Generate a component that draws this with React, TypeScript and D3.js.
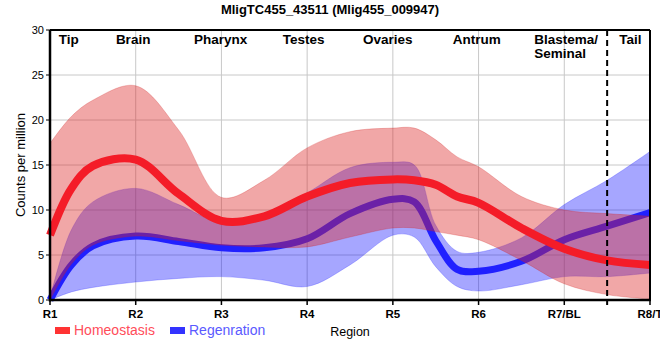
import * as d3 from 'd3';

// sample positions along the region axis (R1..R8)
const POS = [1, 1.25, 1.5, 2, 2.5, 3, 3.5, 4, 4.5, 5, 5.25, 5.5, 5.75, 6, 6.5, 7, 7.5, 8];

const HOMEO_MEAN = [7.2, 12.4, 14.9, 15.6, 11.8, 8.8, 9.3, 11.5, 13.0, 13.4, 13.3, 12.8, 11.5, 10.8, 8.0, 5.7, 4.4, 3.9];
const HOMEO_UPPER = [17.4, 20.4, 22.2, 23.8, 18.9, 11.4, 13.3, 16.9, 18.7, 19.1, 19.1, 17.8, 15.9, 14.8, 11.5, 10.0, 9.6, 9.3];
const HOMEO_LOWER = [0, 4.0, 6.1, 7.1, 6.6, 6.1, 5.9, 5.9, 7.0, 8.0, 8.0, 7.6, 7.2, 6.7, 4.4, 1.8, 0.6, 0.1];

const REGEN_MEAN = [0, 3.9, 6.0, 7.1, 6.5, 5.8, 5.8, 6.8, 9.6, 11.2, 10.9, 6.6, 3.4, 3.2, 4.3, 6.7, 8.2, 9.7];
const REGEN_UPPER = [0.2, 7.8, 10.9, 12.4, 10.6, 8.6, 9.5, 11.9, 14.7, 15.3, 15.0, 8.3, 5.4, 5.3, 6.9, 10.6, 13.3, 16.5];
const REGEN_LOWER = [0, 0.9, 1.4, 2.0, 2.4, 2.6, 2.2, 1.5, 3.9, 7.2, 7.0, 3.7, 1.5, 1.0, 1.7, 2.6, 2.6, 3.0];

const X_TICKS = ['R1', 'R2', 'R3', 'R4', 'R5', 'R6', 'R7/BL', 'R8/T'];
const Y_TICKS = [0, 5, 10, 15, 20, 25, 30];

// tissue labels along the top: [label lines, position, anchor]
const TISSUES: [string[], number, string][] = [
  [['Tip'], 1.22, 'middle'],
  [['Brain'], 1.97, 'middle'],
  [['Pharynx'], 2.99, 'middle'],
  [['Testes'], 3.96, 'middle'],
  [['Ovaries'], 4.94, 'middle'],
  [['Antrum'], 5.98, 'middle'],
  [['Blastema/', 'Seminal'], 6.65, 'start'],
  [['Tail'], 7.77, 'middle'],
];
const TAIL_SPLIT = 7.5;

const FONT = "Arial, 'Liberation Sans', sans-serif";

export default function App() {
  const W = 660;
  const H = 360;
  const left = 50, right = 650, top = 30, bottom = 300;

  const x = d3.scaleLinear().domain([1, 8]).range([left, right]);
  const y = d3.scaleLinear().domain([0, 30]).range([bottom, top]);

  const curve = d3.curveCatmullRom.alpha(0.5);
  const line = d3.line<number>().x((_, i) => x(POS[i])).y(d => y(d)).curve(curve);
  const band = (lo: number[], hi: number[]) =>
    d3.area<number>()
      .x((_, i) => x(POS[i]))
      .y0((_, i) => y(lo[i]))
      .y1(d => y(d))
      .curve(curve)(hi) || '';

  return (
    <svg width={W} height={H} style={{ position: 'absolute', left: 0, top: 0, background: '#fff' }}
      fontFamily={FONT}>
      <text x={330} y={13.5} textAnchor="middle" fontSize={13} fontWeight="bold" fill="#000">
        MligTC455_43511 (Mlig455_009947)
      </text>

      {/* grid */}
      {Y_TICKS.map(t => (
        <line key={'gy' + t} x1={left} x2={right} y1={y(t)} y2={y(t)} stroke="#c8c8c8" strokeWidth={1} />
      ))}
      {X_TICKS.map((_, i) => (
        <line key={'gx' + i} x1={x(i + 1)} x2={x(i + 1)} y1={top} y2={bottom} stroke="#c8c8c8" strokeWidth={1} />
      ))}

      {/* regeneration */}
      <path d={band(REGEN_LOWER, REGEN_UPPER)} fill="#0000ff" fillOpacity={0.35} stroke="#4040ff" strokeOpacity={0.3} strokeWidth={1} />
      <path d={line(REGEN_MEAN) || ''} fill="none" stroke="#2020ff" strokeWidth={7} />

      {/* homeostasis */}
      <path d={band(HOMEO_LOWER, HOMEO_UPPER)} fill="#dd2222" fillOpacity={0.4} stroke="#d02020" strokeOpacity={0.25} strokeWidth={1} />
      <path d={line(HOMEO_MEAN) || ''} fill="none" stroke="#f41c28" strokeWidth={8} />

      {/* frame */}
      <line x1={left} x2={right} y1={top} y2={top} stroke="#000" strokeWidth={2} />
      <line x1={right} x2={right} y1={top} y2={bottom} stroke="#000" strokeWidth={2} />
      <line x1={left} x2={left} y1={top} y2={bottom + 1.5} stroke="#000" strokeWidth={2.5} />
      <line x1={left - 1} x2={right + 1} y1={bottom} y2={bottom} stroke="#000" strokeWidth={2.5} />

      <line x1={x(TAIL_SPLIT)} x2={x(TAIL_SPLIT)} y1={top} y2={bottom + 5} stroke="#000" strokeWidth={2} strokeDasharray="6,4" />

      {/* y axis */}
      {Y_TICKS.map(t => (
        <g key={'yt' + t}>
          <line x1={left - 4} x2={left} y1={y(t)} y2={y(t)} stroke="#000" strokeWidth={1} />
          <text x={left - 6} y={y(t)} dy="0.35em" textAnchor="end" fontSize={11} fill="#000">{t}</text>
        </g>
      ))}
      <text transform={`translate(25,${(top + bottom) / 2}) rotate(-90)`} textAnchor="middle" fontSize={13} fill="#000">
        Counts per million
      </text>

      {/* x axis */}
      {X_TICKS.map((t, i) => (
        <g key={'xt' + t}>
          <line x1={x(i + 1)} x2={x(i + 1)} y1={bottom} y2={bottom + 5} stroke="#000" strokeWidth={1.5} />
          <text x={x(i + 1)} y={318} textAnchor="middle" fontSize={11.5} fontWeight="bold" fill="#000">{t}</text>
        </g>
      ))}
      <text x={(left + right) / 2} y={336} textAnchor="middle" fontSize={12.5} fill="#000">Region</text>

      {/* tissue labels */}
      {TISSUES.map(([lines, p, anchor]) => (
        <text key={lines[0]} x={x(p)} y={44} textAnchor={anchor} fontSize={13.5} fontWeight="bold" fill="#000">
          {lines.map((l, j) => (
            <tspan key={l} x={x(p)} dy={j === 0 ? 0 : 14}>{l}</tspan>
          ))}
        </text>
      ))}

      {/* legend */}
      <rect x={55} y={327} width={15} height={7} fill="#ff3333" />
      <text x={74} y={334.5} fontSize={14} fill="#ff4d5a">Homeostasis</text>
      <rect x={170} y={327} width={15} height={7} fill="#3333ff" />
      <text x={189} y={334.5} fontSize={14} fill="#5a5aff">Regenration</text>
    </svg>
  );
}
